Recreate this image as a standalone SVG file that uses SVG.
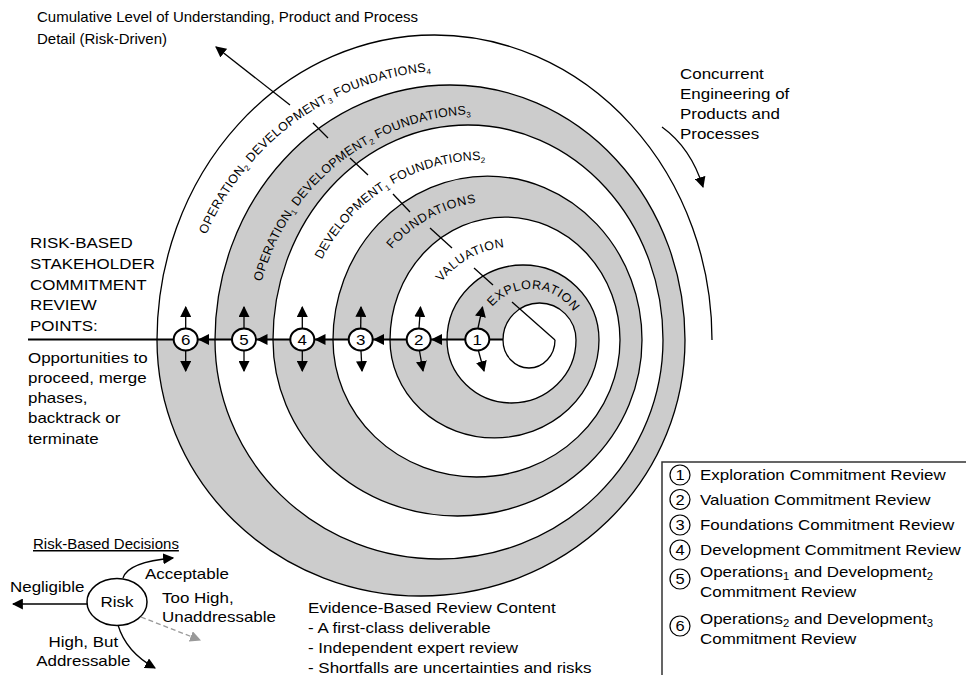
<svg xmlns="http://www.w3.org/2000/svg" width="966" height="675" viewBox="0 0 966 675">
<style>
text{font-family:"Liberation Sans",Arial,Helvetica,sans-serif;fill:#000}
.m{font-size:15px}
.lb{font-size:12.5px}
.sub{font-size:8px}
.sp{fill:none;stroke:#000;stroke-width:1.3}
.g{fill:#cccccc;stroke:none}
.ln{stroke:#000;stroke-width:1.3;fill:none}
.ax{stroke:#000;stroke-width:2;fill:none}
.nd{fill:#fff;stroke:#000;stroke-width:2}
.lg{fill:#fff;stroke:#000;stroke-width:1.2}
</style>
<defs>
<marker id="ah" viewBox="0 0 10 10" refX="9" refY="5" markerWidth="11" markerHeight="11" markerUnits="userSpaceOnUse" orient="auto"><path d="M0,0L10,5L0,10z" fill="#000"/></marker>
<marker id="ahg" viewBox="0 0 10 10" refX="9" refY="5" markerWidth="11" markerHeight="11" markerUnits="userSpaceOnUse" orient="auto"><path d="M0,0L10,5L0,10z" fill="#999"/></marker>
<path id="p1" d="M480,340 A51,51 0 0 1 582,340"/>
<path id="p2" d="M421.5,340 A93.5,93.5 0 0 1 608.5,340"/>
<path id="p3" d="M358,340 A139,139 0 0 1 636,340"/>
<path id="p4" d="M303,340 A180,180 0 0 1 663,340"/>
<path id="p5" d="M254,340 A226,226 0 0 1 706,340"/>
<path id="p6" d="M185,340 A270,270 0 0 1 725,340"/>
</defs>
<rect width="966" height="675" fill="#fff"/>

<g id="spiral">
<path class="g" d="M503,340 A36.5,37 0 0 1 576,340 A64.5,63 0 0 1 447,340 L390,340 A104.5,98 0 0 0 599,340 A76,75 0 0 0 447,340 Z"/>
<path class="g" d="M390,340 A115,123 0 0 1 620,340 A143.5,137 0 0 1 333,340 L273,340 A184.5,176 0 0 0 642,340 A154.5,164 0 0 0 333,340 Z"/>
<path class="g" d="M273,340 A195,215 0 0 1 663,340 A224,219 0 0 1 215,340 L157,340 A264,256 0 0 0 685,340 A235,255 0 0 0 215,340 Z"/>
<path class="sp" d="M555,340 A26,28 0 0 1 503,340 A36.5,37 0 0 1 576,340 A64.5,63 0 0 1 447,340 A76,75 0 0 1 599,340 A104.5,98 0 0 1 390,340 A115,123 0 0 1 620,340 A143.5,137 0 0 1 333,340 A154.5,164 0 0 1 642,340 A184.5,176 0 0 1 273,340 A195,215 0 0 1 663,340 A224,219 0 0 1 215,340 A235,255 0 0 1 685,340 A264,256 0 0 1 157,340 A277.5,305 0 0 1 712,340"/>
<g class="ln">
<line x1="512" y1="302" x2="555" y2="340"/>
<line x1="474" y1="268" x2="493" y2="285"/>
<line x1="430" y1="228" x2="452" y2="248"/>
<line x1="393" y1="194" x2="410" y2="212"/>
<line x1="350" y1="158" x2="368" y2="175"/>
<line x1="313" y1="123" x2="328" y2="138"/>
</g>
<text class="lb" letter-spacing="0.6"><textPath href="#p1" startOffset="36">EXPLORATION</textPath></text>
<text class="lb" letter-spacing="0.6"><textPath href="#p2" startOffset="62">VALUATION</textPath></text>
<text class="lb" letter-spacing="0.8"><textPath href="#p3" startOffset="99">FOUNDATIONS</textPath></text>
<text class="lb" letter-spacing="0.2"><textPath href="#p4" startOffset="83">DEVELOPMENT<tspan class="sub" baseline-shift="-3">1</tspan> FOUNDATIONS<tspan class="sub" baseline-shift="-3">2</tspan></textPath></text>
<text class="lb" letter-spacing="0.25"><textPath href="#p5" startOffset="59">OPERATION<tspan class="sub" baseline-shift="-3">1</tspan> DEVELOPMENT<tspan class="sub" baseline-shift="-3">2</tspan> FOUNDATIONS<tspan class="sub" baseline-shift="-3">3</tspan></textPath></text>
<text class="lb" letter-spacing="0.4"><textPath href="#p6" startOffset="108">OPERATION<tspan class="sub" baseline-shift="-3">2</tspan> DEVELOPMENT<tspan class="sub" baseline-shift="-3">3</tspan> FOUNDATIONS<tspan class="sub" baseline-shift="-3">4</tspan></textPath></text>
</g>

<g id="connectors">
<line class="ax" x1="28" y1="339.5" x2="503" y2="339.5"/>
<g fill="#000">
<polygon points="198,339.5 209,334 209,345"/>
<polygon points="256.5,339.5 267.5,334 267.5,345"/>
<polygon points="314.5,339.5 325.5,334 325.5,345"/>
<polygon points="373,339.5 384,334 384,345"/>
<polygon points="431,339.5 442,334 442,345"/>
</g>
<g class="ln" marker-end="url(#ah)">
<line x1="478" y1="328" x2="482.5" y2="307"/>
<line x1="478.5" y1="351" x2="484" y2="371"/>
<line x1="419" y1="328" x2="420.5" y2="307"/>
<line x1="419.5" y1="351" x2="423" y2="371"/>
<line x1="360.7" y1="328" x2="361" y2="307"/>
<line x1="361" y1="351" x2="362" y2="371"/>
<line x1="302.3" y1="328" x2="302.3" y2="307"/>
<line x1="302.3" y1="351" x2="302.3" y2="371"/>
<line x1="244" y1="328" x2="244" y2="307"/>
<line x1="244" y1="351" x2="244" y2="371"/>
<line x1="185.7" y1="328" x2="185.7" y2="307"/>
<line x1="185.7" y1="351" x2="185.7" y2="371"/>
<line x1="290" y1="105" x2="216" y2="47"/>
<path d="M662,127 Q691,148 703,187"/>
<line x1="87" y1="604" x2="13" y2="604"/>
<path d="M123,578 Q128,562 173,558"/>
<path d="M118,625 Q126,652 155,668"/>
</g>
<line x1="141" y1="617" x2="200" y2="640" stroke="#999" stroke-width="1.3" stroke-dasharray="5,3" marker-end="url(#ahg)"/>
</g>

<g id="n1"><ellipse class="nd" cx="477.3" cy="339.5" rx="12" ry="11"/><g transform="translate(477.3,0) scale(1.13,1)"><text class="m" x="0" y="345" text-anchor="middle">1</text></g></g>
<g id="n2"><ellipse class="nd" cx="418.7" cy="339.5" rx="12" ry="11"/><g transform="translate(418.7,0) scale(1.13,1)"><text class="m" x="0" y="345" text-anchor="middle">2</text></g></g>
<g id="n3"><ellipse class="nd" cx="360.7" cy="339.5" rx="12" ry="11"/><g transform="translate(360.7,0) scale(1.13,1)"><text class="m" x="0" y="345" text-anchor="middle">3</text></g></g>
<g id="n4"><ellipse class="nd" cx="302.3" cy="339.5" rx="12" ry="11"/><g transform="translate(302.3,0) scale(1.13,1)"><text class="m" x="0" y="345" text-anchor="middle">4</text></g></g>
<g id="n5"><ellipse class="nd" cx="244" cy="339.5" rx="12" ry="11"/><g transform="translate(244,0) scale(1.13,1)"><text class="m" x="0" y="345" text-anchor="middle">5</text></g></g>
<g id="n6"><ellipse class="nd" cx="185.7" cy="339.5" rx="12" ry="11"/><g transform="translate(185.7,0) scale(1.13,1)"><text class="m" x="0" y="345" text-anchor="middle">6</text></g></g>

<g id="title">
<text class="m" x="37" y="22">Cumulative Level of Understanding, Product and Process</text>
<text class="m" x="37" y="44">Detail (Risk-Driven)</text>
</g>

<g id="concurrent" transform="translate(680,0) scale(1.13,1)">
<text class="m" x="0" y="79">Concurrent</text>
<text class="m" x="0" y="99">Engineering of</text>
<text class="m" x="0" y="119">Products and</text>
<text class="m" x="0" y="139">Processes</text>
</g>

<g id="review-points" transform="translate(30,0) scale(1.13,1)">
<text class="m" x="0" y="248">RISK-BASED</text>
<text class="m" x="0" y="269">STAKEHOLDER</text>
<text class="m" x="0" y="290">COMMITMENT</text>
<text class="m" x="0" y="310">REVIEW</text>
<text class="m" x="0" y="331">POINTS:</text>
</g>
<g id="opportunities" transform="translate(28,0) scale(1.13,1)">
<text class="m" x="0" y="363">Opportunities to</text>
<text class="m" x="0" y="383">proceed, merge</text>
<text class="m" x="0" y="403">phases,</text>
<text class="m" x="0" y="423">backtrack or</text>
<text class="m" x="0" y="444">terminate</text>
</g>

<g id="risk">
<text class="m" x="33" y="549" text-decoration="underline">Risk-Based Decisions</text>
<ellipse cx="117" cy="602" rx="30" ry="23.5" fill="#fff" stroke="#000" stroke-width="1.5"/>
<g transform="translate(117,0) scale(1.13,1)"><text class="m" x="0" y="607.5" text-anchor="middle">Risk</text></g>
<g transform="translate(10,0) scale(1.13,1)"><text class="m" x="0" y="592">Negligible</text></g>
<g transform="translate(145,0) scale(1.13,1)"><text class="m" x="0" y="579">Acceptable</text></g>
<g transform="translate(162,0) scale(1.13,1)"><text class="m" x="0" y="603">Too High,</text><text class="m" x="0" y="622">Unaddressable</text></g>
<g transform="translate(83.3,0) scale(1.13,1)"><text class="m" x="0" y="647" text-anchor="middle">High, But</text><text class="m" x="0" y="666" text-anchor="middle">Addressable</text></g>
</g>

<g id="evidence" transform="translate(308,0) scale(1.13,1)">
<text class="m" x="0" y="613">Evidence-Based Review Content</text>
<text class="m" x="0" y="633">- A first-class deliverable</text>
<text class="m" x="0" y="653">- Independent expert review</text>
<text class="m" x="0" y="673">- Shortfalls are uncertainties and risks</text>
</g>

<g id="legend">
<path d="M662,675 V462 H966" fill="none" stroke="#333" stroke-width="1.5"/>
<circle class="lg" cx="680" cy="475" r="10"/>
<circle class="lg" cx="680" cy="499.5" r="10"/>
<circle class="lg" cx="680" cy="525" r="10"/>
<circle class="lg" cx="680" cy="550" r="10"/>
<circle class="lg" cx="680" cy="579" r="10"/>
<circle class="lg" cx="680" cy="626" r="10"/>
<g transform="translate(680,0) scale(1.1,1)">
<text class="m" x="0" y="480.3" text-anchor="middle">1</text>
<text class="m" x="0" y="504.8" text-anchor="middle">2</text>
<text class="m" x="0" y="530.3" text-anchor="middle">3</text>
<text class="m" x="0" y="555.3" text-anchor="middle">4</text>
<text class="m" x="0" y="584.3" text-anchor="middle">5</text>
<text class="m" x="0" y="631.3" text-anchor="middle">6</text>
</g>
<g transform="translate(700,0) scale(1.13,1)">
<text class="m" x="0" y="480.5">Exploration Commitment Review</text>
<text class="m" x="0" y="505">Valuation Commitment Review</text>
<text class="m" x="0" y="530.5">Foundations Commitment Review</text>
<text class="m" x="0" y="555.5">Development Commitment Review</text>
<text class="m" x="0" y="577">Operations<tspan font-size="10" dy="3">1</tspan><tspan dy="-3"> and Development</tspan><tspan font-size="10" dy="3">2</tspan></text>
<text class="m" x="0" y="597">Commitment Review</text>
<text class="m" x="0" y="624">Operations<tspan font-size="10" dy="3">2</tspan><tspan dy="-3"> and Development</tspan><tspan font-size="10" dy="3">3</tspan></text>
<text class="m" x="0" y="644">Commitment Review</text>
</g>
</g>
</svg>
